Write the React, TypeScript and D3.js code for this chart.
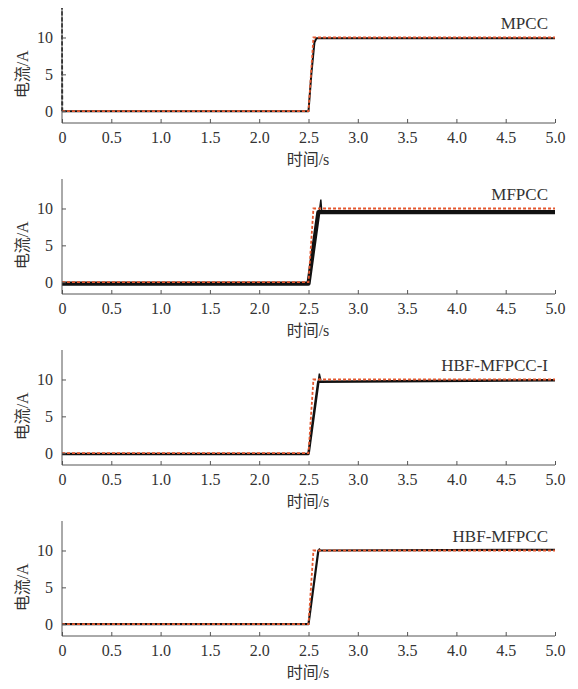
import { useEffect, useRef } from "react";
import * as d3 from "d3";

const W = 578;
const H = 689;

const titles = ["MPCC", "MFPCC", "HBF-MFPCC-I", "HBF-MFPCC"];
const xTicks = [0, 0.5, 1.0, 1.5, 2.0, 2.5, 3.0, 3.5, 4.0, 4.5, 5.0];
const yTicks = [0, 5, 10];

// reference current (orange dotted)
const refT = [0, 2.5, 2.55, 5.0];
const refI = [0, 0, 10, 10];

// measured current per method (steady trace, drawn thick for the ripple band)
const mpccT = [0, 2.5, 2.53, 2.56, 2.58, 5.0];
const mpccI = [0, 0, 5.2, 9.3, 9.9, 9.9];
const mfpccT = [0, 2.5, 2.6, 5.0];
const mfpccI = [-0.2, -0.2, 9.5, 9.5];
const hbf1T = [0, 2.5, 2.6, 5.0];
const hbf1I = [-0.1, -0.1, 9.7, 9.9];
const hbf2T = [0, 2.5, 2.6, 5.0];
const hbf2I = [0, 0, 10.0, 10.1];

// transient spikes (thin)
const mpccSpikeT = [0, 0, 0.004];
const mpccSpikeI = [0, 14.5, 0];
const mfpccSpikeT = [2.61, 2.625, 2.635];
const mfpccSpikeI = [9.6, 11.2, 9.6];
const hbf1SpikeT = [2.6, 2.61, 2.625];
const hbf1SpikeI = [9.8, 10.8, 9.9];
const hbf2SpikeT = [2.6, 2.61, 2.62];
const hbf2SpikeI = [10.0, 10.2, 10.1];

const measured = [
  { t: mpccT, i: mpccI, st: mpccSpikeT, si: mpccSpikeI, w: 2 },
  { t: mfpccT, i: mfpccI, st: mfpccSpikeT, si: mfpccSpikeI, w: 4.2 },
  { t: hbf1T, i: hbf1I, st: hbf1SpikeT, si: hbf1SpikeI, w: 2.6 },
  { t: hbf2T, i: hbf2I, st: hbf2SpikeT, si: hbf2SpikeI, w: 2.2 },
];

const FONT = "'Times New Roman', 'Liberation Serif', serif";
const CJK = "'Times New Roman', 'Liberation Serif', 'Noto Sans CJK SC', serif";

export default function App() {
  const svgRef = useRef<SVGSVGElement>(null);

  useEffect(() => {
    if (!svgRef.current) return;
    const svg = d3.select(svgRef.current);
    svg.selectAll("*").remove();

    const x = d3.scaleLinear().domain([0, 5]).range([62, 555]);
    const panelH = 115;
    const tops = [8, 179, 350, 521];

    tops.forEach((top, k) => {
      const y = d3.scaleLinear().domain([-1.6, 14]).range([top + panelH, top]);
      const g = svg.append("g");
      const clipId = `clip${k}`;
      g.append("clipPath")
        .attr("id", clipId)
        .append("rect")
        .attr("x", x(0) - 3)
        .attr("y", top)
        .attr("width", x(5) - x(0) + 5)
        .attr("height", panelH);

      const line = d3
        .line<[number, number]>()
        .x((d) => x(d[0]))
        .y((d) => y(d[1]));

      const m = measured[k];
      g.append("path")
        .attr("clip-path", `url(#${clipId})`)
        .attr("d", line(m.t.map((t, j) => [t, m.i[j]] as [number, number])))
        .attr("fill", "none")
        .attr("stroke", "#111")
        .attr("stroke-width", m.w)
        .attr("stroke-linejoin", "round");

      g.append("path")
        .attr("clip-path", `url(#${clipId})`)
        .attr("d", line(m.st.map((t, j) => [t, m.si[j]] as [number, number])))
        .attr("fill", "none")
        .attr("stroke", "#111")
        .attr("stroke-width", k === 0 ? 1.6 : 1.4)
        .attr("stroke-dasharray", k === 0 ? "4,2" : null);

      g.append("path")
        .attr("clip-path", `url(#${clipId})`)
        .attr("d", line(refT.map((t, j) => [t, refI[j]] as [number, number])))
        .attr("fill", "none")
        .attr("stroke", "#e4572e")
        .attr("stroke-width", 1.8)
        .attr("stroke-dasharray", "3,2");

      // axes
      const xAxis = g
        .append("g")
        .attr("transform", `translate(0,${top + panelH})`)
        .call(
          d3
            .axisBottom(x)
            .tickValues(xTicks)
            .tickSize(-4)
            .tickFormat((d) => (d === 0 ? "0" : d3.format(".1f")(d as number)))
        )
        .attr("font-family", FONT)
        .attr("font-size", 16);
      xAxis.select(".domain").attr("stroke", "#555").attr("d", `M${x(0)},0H${x(5)}`);
      xAxis.selectAll(".tick line").attr("stroke", "#555");
      xAxis
        .selectAll(".tick text")
        .attr("y", 20)
        .attr("dy", 0)
        .attr("fill", "#333");

      const yAxis = g
        .append("g")
        .attr("transform", `translate(${x(0)},0)`)
        .call(d3.axisLeft(y).tickValues(yTicks).tickSize(-4).tickFormat(d3.format("d")))
        .attr("font-family", FONT)
        .attr("font-size", 16);
      yAxis.select(".domain").attr("stroke", "#555").attr("d", `M0,${top}V${top + panelH}`);
      yAxis.selectAll(".tick line").attr("stroke", "#555");
      yAxis
        .selectAll(".tick text")
        .attr("x", -9)
        .attr("fill", "#333");

      g.append("text")
        .attr("x", 308)
        .attr("y", top + panelH + 42)
        .attr("text-anchor", "middle")
        .attr("fill", "#333")
        .attr("font-family", CJK)
        .attr("font-size", 16)
        .text("时间/s");

      g.append("text")
        .attr("transform", `translate(28,${y(5)}) rotate(-90)`)
        .attr("text-anchor", "middle")
        .attr("fill", "#333")
        .attr("font-family", CJK)
        .attr("font-size", 16)
        .text("电流/A");

      g.append("text")
        .attr("x", 548)
        .attr("y", top + 21)
        .attr("text-anchor", "end")
        .attr("fill", "#333")
        .attr("font-family", FONT)
        .attr("font-size", 17)
        .text(titles[k]);
    });
  }, []);

  return (
    <svg
      ref={svgRef}
      width={W}
      height={H}
      viewBox={`0 0 ${W} ${H}`}
      style={{ position: "absolute", left: 0, top: 0, background: "#fff" }}
    />
  );
}
